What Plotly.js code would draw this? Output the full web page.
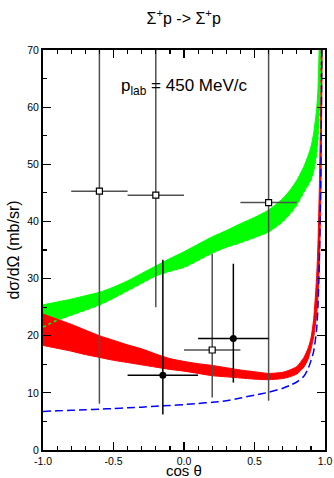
<!DOCTYPE html>
<html><head><meta charset="utf-8">
<script src="https://cdn.plot.ly/plotly-3.0.1.min.js"></script>
<style>html,body{margin:0;padding:0;background:#fff}#chart{width:334px;height:478px}</style>
</head><body><div id="chart"></div>
<script>
// cos(theta) grid for the model curves
const cosTheta = [-1, -0.9, -0.8, -0.7, -0.6, -0.5, -0.4, -0.3, -0.2, -0.1, 0, 0.1, 0.2, 0.3, 0.4, 0.5, 0.6, 0.7, 0.75, 0.8, 0.85, 0.88, 0.9, 0.92, 0.94, 0.95, 0.96, 0.97, 0.98];
// green band (lower / upper edge)
const greenLow  = [21.5, 22.7, 23.6, 24.5, 25.4, 26.6, 27.9, 29.2, 30.5, 31.3, 32.0, 33.2, 34.5, 35.5, 36.3, 37.2, 38.2, 40.0, 41.3, 42.9, 45.2, 46.4, 47.3, 49.0, 52.0, 55.0, 60.0, 68.0, 85.0];
const greenHigh = [25.4, 25.9, 26.4, 27.0, 27.6, 28.5, 29.6, 30.9, 32.2, 33.5, 34.7, 36.0, 37.3, 38.4, 39.6, 40.7, 42.0, 44.0, 45.4, 47.2, 49.6, 51.5, 53.0, 55.5, 59.5, 63.0, 72.0, 90.0, 120.0];
// red band (lower / upper edge)
const redLow  = [18.3, 17.8, 17.3, 16.7, 16.2, 15.7, 15.3, 14.9, 14.5, 14.1, 13.8, 13.4, 13.0, 12.8, 12.6, 12.4, 12.3, 12.5, 12.8, 13.3, 14.5, 15.9, 17.6, 19.8, 23.5, 27.0, 33.0, 44.0, 70.0];
const redHigh = [23.8, 22.9, 22.0, 21.0, 20.0, 19.2, 18.4, 17.7, 16.8, 16.0, 15.5, 15.1, 14.8, 14.4, 14.0, 13.7, 13.4, 13.6, 14.0, 14.6, 16.2, 17.8, 19.5, 23.0, 30.0, 36.0, 46.0, 62.0, 90.0];
// blue dashed curve
const blueCurve = [6.75, 6.85, 6.95, 7.05, 7.15, 7.25, 7.4, 7.5, 7.65, 7.8, 7.95, 8.15, 8.35, 8.6, 9.1, 9.6, 10.1, 10.8, 11.3, 11.9, 12.9, 14.2, 15.6, 17.3, 21.0, 25.0, 33.0, 47.0, 80.0];

// data set 1 (open squares)
const sqX = [-0.6, -0.2, 0.2, 0.6];
const sqY = [45.3, 44.6, 17.5, 43.3];
const sqXerr = [0.2, 0.2, 0.2, 0.2];
const sqYerrPlus = [34.7, 35.4, 16.9, 36.7];
const sqYerrMinus = [37.2, 19.6, 8.3, 34.7];
// data set 2 (filled circles)
const ciX = [-0.15, 0.35];
const ciY = [13.1, 19.5];
const ciXerr = [0.25, 0.25];
const ciYerrPlus = [20.2, 13.1];
const ciYerrMinus = [6.9, 7.7];

const xTickVals = [-1, -0.5, 0, 0.5, 1];
const xTickText = ["-1.0", "-0.5", "0.0", "0.5", "1.0"];

const FONT = "Liberation Sans, Arial, Helvetica, sans-serif";
const SM = 0.6;

const traces = [
  {x: cosTheta, y: greenLow, mode: 'lines', line: {color: '#00ff00', width: 1, shape: 'spline', smoothing: SM}, hoverinfo: 'skip'},
  {x: cosTheta, y: greenHigh, mode: 'lines', fill: 'tonexty', fillcolor: '#00ff00', line: {color: '#00ff00', width: 1, shape: 'spline', smoothing: SM}, hoverinfo: 'skip'},
  {x: cosTheta, y: redLow, mode: 'lines', line: {color: '#ff0000', width: 1, shape: 'spline', smoothing: SM}, hoverinfo: 'skip'},
  {x: cosTheta, y: redHigh, mode: 'lines', fill: 'tonexty', fillcolor: '#ff0000', line: {color: '#ff0000', width: 1, shape: 'spline', smoothing: SM}, hoverinfo: 'skip'},
  {x: cosTheta, y: greenLow, mode: 'lines', line: {color: '#00ff00', width: 1.5, dash: 'dot', shape: 'spline', smoothing: SM}, hoverinfo: 'skip'},
  {x: cosTheta, y: blueCurve, mode: 'lines', line: {color: '#0000ff', width: 1.5, dash: '8px,4px', shape: 'spline', smoothing: SM}},
  {x: sqX, y: sqY, mode: 'markers',
   marker: {symbol: 'square', size: 6, color: '#ffffff', line: {color: '#000000', width: 1.2}},
   error_x: {type: 'data', array: sqXerr, color: '#505050', thickness: 1.5, width: 0},
   error_y: {type: 'data', symmetric: false, array: sqYerrPlus, arrayminus: sqYerrMinus, color: '#505050', thickness: 1.5, width: 0}},
  {x: ciX, y: ciY, mode: 'markers',
   marker: {symbol: 'circle', size: 7, color: '#000000'},
   error_x: {type: 'data', array: ciXerr, color: '#000000', thickness: 1.5, width: 0},
   error_y: {type: 'data', symmetric: false, array: ciYerrPlus, arrayminus: ciYerrMinus, color: '#000000', thickness: 1.5, width: 0}}
];

const layout = {
  width: 334, height: 478,
  margin: {l: 43, r: 9, t: 50, b: 28},
  paper_bgcolor: '#ffffff', plot_bgcolor: '#ffffff',
  showlegend: false,
  font: {family: FONT, color: '#000000'},
  title: {text: 'Σ<sup>+</sup>p -> Σ<sup>+</sup>p', font: {family: FONT, size: 16, color: '#000'}, x: 0.55, xanchor: 'center', y: 0.962, yanchor: 'middle'},
  xaxis: {
    range: [-1, 1], showgrid: false, zeroline: false,
    showline: true, linecolor: '#000', linewidth: 2, mirror: 'ticks',
    ticks: 'inside', ticklen: 8, tickwidth: 1.2, tickcolor: '#000',
    tickmode: 'array', tickvals: xTickVals, ticktext: xTickText,
    tickfont: {family: FONT, size: 10.5, color: '#000'},
    minor: {tickmode: 'linear', tick0: -1, dtick: 0.1, ticks: 'inside', ticklen: 4, tickwidth: 1.2, tickcolor: '#000', showgrid: false}
  },
  yaxis: {
    range: [0, 70], showgrid: false, zeroline: false,
    showline: true, linecolor: '#000', linewidth: 2, mirror: 'ticks',
    ticks: 'inside', ticklen: 8, tickwidth: 1.2, tickcolor: '#000',
    tickmode: 'linear', tick0: 0, dtick: 10,
    tickfont: {family: FONT, size: 10.5, color: '#000'},
    minor: {tickmode: 'linear', tick0: 0, dtick: 5, ticks: 'inside', ticklen: 4, tickwidth: 1.2, tickcolor: '#000', showgrid: false},
    title: {text: 'dσ/dΩ (mb/sr)', font: {family: FONT, size: 16, color: '#000'}, standoff: 4}
  },
  annotations: [
    {x: 0.0, y: 63.5, xref: 'x', yref: 'y', text: 'p<sub>lab</sub> = 450 MeV/c', showarrow: false,
     font: {family: FONT, size: 17, color: '#000'}, xanchor: 'center', yanchor: 'middle'},
    {x: 0.5, y: -0.05, xref: 'paper', yref: 'paper', text: 'cos θ', showarrow: false,
     font: {family: FONT, size: 15, color: '#000'}, xanchor: 'center', yanchor: 'middle'}
  ]
};

Plotly.newPlot('chart', traces, layout, {displayModeBar: false, staticPlot: true});
</script>
</body></html>
